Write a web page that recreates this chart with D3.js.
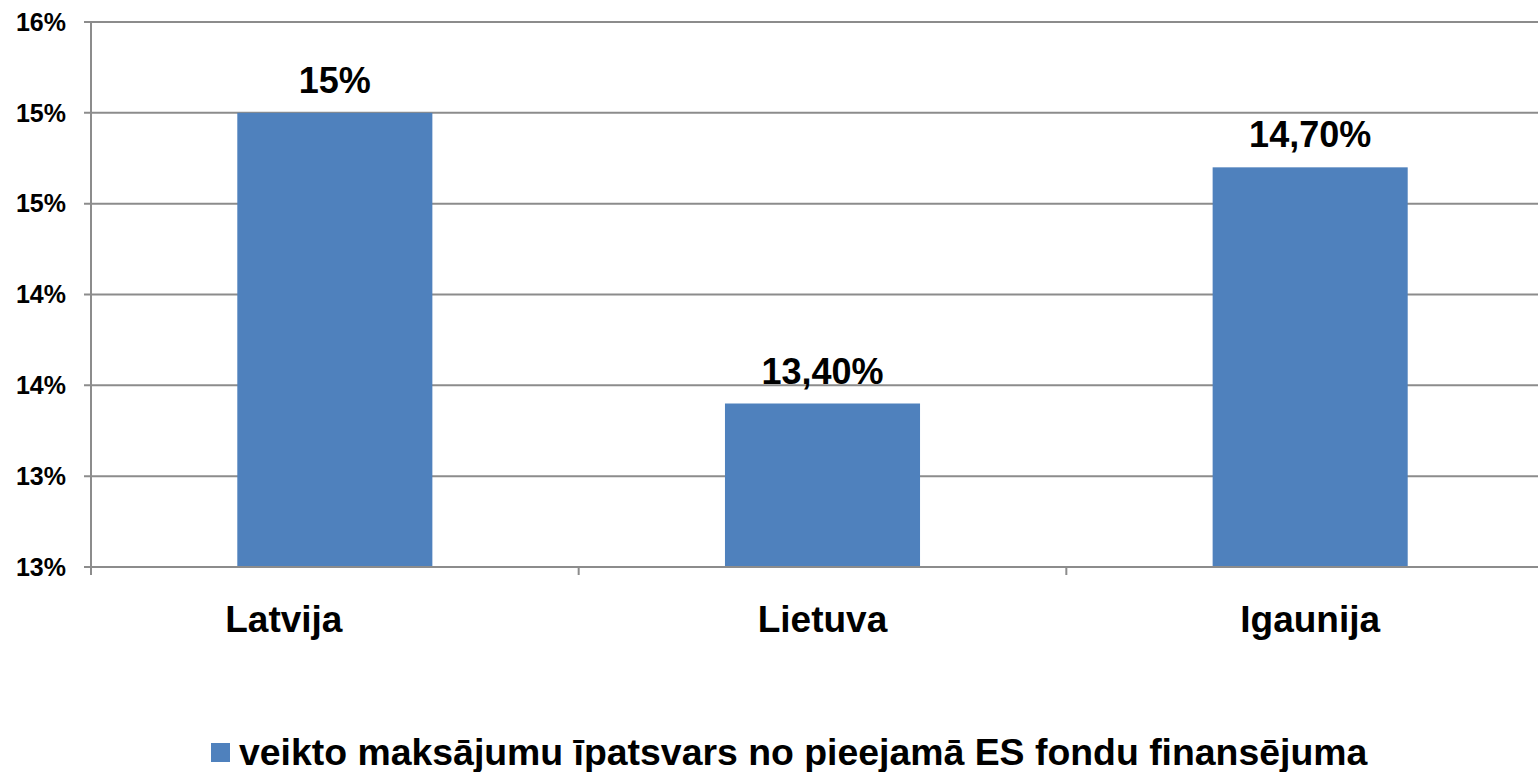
<!DOCTYPE html>
<html><head><meta charset="utf-8">
<script src="https://cdn.jsdelivr.net/npm/d3@7"></script>
<style>body{margin:0;background:#fff}svg{display:block}text{font-family:"Liberation Sans",Arial,sans-serif;font-weight:bold;fill:#000}</style>
</head><body>
<svg id="c" width="1538" height="772"></svg>
<script>
const categories = ["Latvija", "Lietuva", "Igaunija"];
const values = [15.0, 13.4, 14.7];
const valueLabels = ["15%", "13,40%", "14,70%"];
const tickValues = [12.5, 13.0, 13.5, 14.0, 14.5, 15.0, 15.5];
const seriesName = "veikto maksājumu īpatsvars no pieejamā ES fondu finansējuma";

(function () {
const svg = d3.select("#c");
const pL = 91, pR = 1554, pT = 22, pB = 567;
const x = d3.scaleBand().domain(categories).range([pL, pR]).paddingInner(0.6).paddingOuter(0.3);
const y = d3.scaleLinear().domain([12.5, 15.5]).range([pB, pT]);
const grid = "#8c8c8c";

svg.append("g").selectAll("line").data(tickValues).join("line")
  .attr("x1", pL - 7).attr("x2", pR).attr("y1", d => y(d)).attr("y2", d => y(d))
  .attr("stroke", grid).attr("stroke-width", 2);

svg.append("line").attr("x1", pL).attr("x2", pL).attr("y1", pT).attr("y2", pB + 8)
  .attr("stroke", grid).attr("stroke-width", 2);

svg.append("g").selectAll("text").data(tickValues).join("text")
  .attr("x", 66).attr("y", d => y(d)).attr("dy", "0.35em").attr("text-anchor", "end")
  .attr("font-size", 25).text(d => Math.round(d + 1e-9) + "%");

const bounds = d3.range(1, categories.length).map(i => pL + i * (pR - pL) / categories.length);
svg.append("g").selectAll("line").data(bounds).join("line")
  .attr("x1", d => d).attr("x2", d => d).attr("y1", pB).attr("y2", pB + 8)
  .attr("stroke", grid).attr("stroke-width", 2);

svg.append("g").selectAll("rect").data(values).join("rect")
  .attr("x", (d, i) => x(categories[i])).attr("width", x.bandwidth())
  .attr("y", d => y(d)).attr("height", d => y(12.5) - y(d) - 1)
  .attr("fill", "#4f81bd");

svg.append("g").selectAll("text").data(values).join("text")
  .attr("x", (d, i) => x(categories[i]) + x.bandwidth() / 2).attr("y", d => y(d) - 20)
  .attr("text-anchor", "middle").attr("font-size", 36).text((d, i) => valueLabels[i]);

// the first category label sits left of its bar in the original
svg.append("g").selectAll("text").data(categories).join("text")
  .attr("x", d => x(d) + x.bandwidth() / 2).attr("dx", (d, i) => i === 0 ? -51 : 0).attr("y", 632)
  .attr("text-anchor", "middle").attr("font-size", 37).text(d => d);

svg.append("rect").attr("x", 211).attr("y", 743).attr("width", 19).attr("height", 19).attr("fill", "#4f81bd");
svg.append("text").attr("x", 239).attr("y", 765).attr("font-size", 37.4).text(seriesName);
})();
</script>
</body></html>
